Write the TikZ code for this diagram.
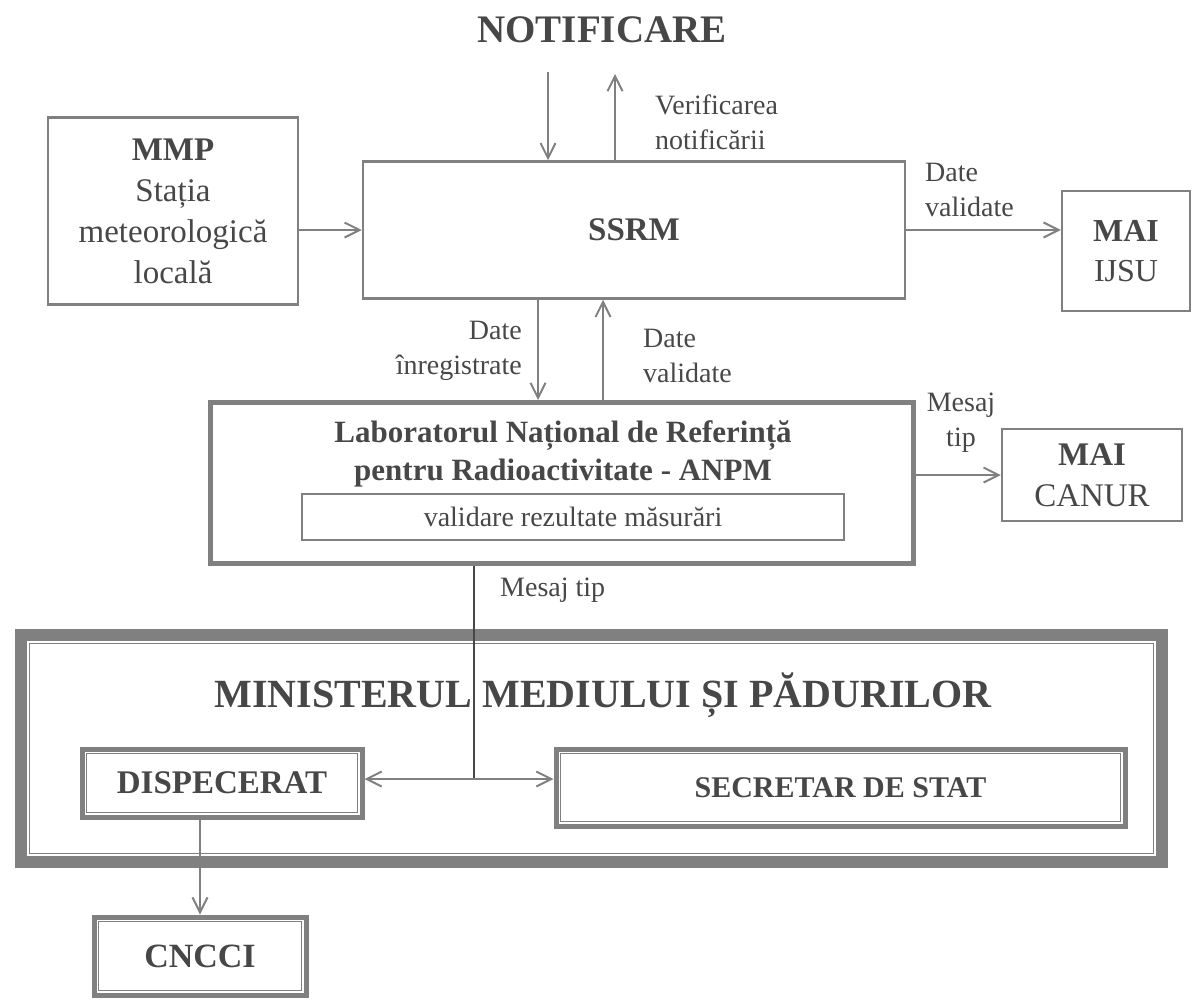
\documentclass[tikz,border=0pt]{standalone}
\usepackage{fontspec}
\setmainfont{Liberation Serif}
\usetikzlibrary{arrows.meta}
\definecolor{scanline}{gray}{0.5}
\definecolor{scantext}{gray}{0.28}
\begin{document}
\begin{tikzpicture}[x=1pt,y=-1pt,
	thinbox/.style={draw=scanline,line width=2.5pt,inner sep=0pt,align=center,text=scantext},
	heavybox/.style={draw=scanline,line width=5pt,inner sep=0pt,align=center,text=scantext},
	inner/.style={draw=scanline,line width=1.5pt},
	note/.style={text=scantext,inner sep=0pt,font=\fontsize{28}{35}\selectfont},
	arr/.style={draw=scanline,line width=2pt,-{Straight Barb[length=15pt,width=15pt]}}]
	\useasboundingbox (0,0) rectangle (1194,999);

	% NOTIFICARE
	\node[text=scantext,font=\bfseries\fontsize{39}{39}\selectfont] (notif) at (602,30) {NOTIFICARE};
	\coordinate (nin) at (548,72);
	\coordinate (nout) at (615,74);

	% SSRM and the boxes round it
	\node[thinbox,minimum width=250pt,minimum height=187pt,font=\fontsize{33}{41}\selectfont] (mmp) at (173,211) {\textbf{MMP}\\Stația\\meteorologică\\locală};
	\node[thinbox,minimum width=542pt,minimum height=137pt,font=\bfseries\fontsize{33}{33}\selectfont] (ssrm) at (634,230) {SSRM};
	\node[thinbox,minimum width=128pt,minimum height=120pt,font=\fontsize{32}{40}\selectfont] (ijsu) at (1126,251) {\textbf{MAI}\\IJSU};

	\draw[arr] (nin) -- (nin |- ssrm.north);
	\draw[arr] (ssrm.north -| nout) -- (nout);
	\node[note,anchor=west,align=left] (verif) at (655,122) {Verificarea\\notificării};
	\draw[arr] (mmp.east |- ssrm.west) -- (ssrm.west);
	\draw[arr] (ssrm.east) -- (ssrm.east -| ijsu.west);
	\node[note,anchor=west,align=left] (dvalsus) at (925,190) {Date\\validate};

	% Laboratorul
	\node[heavybox,minimum width=703pt,minimum height=161pt] (lab) at (562,483) {};
	\node[text=scantext,align=center,font=\bfseries\fontsize{31}{38}\selectfont] (labtitle) at (563,454) {Laboratorul Național de Referință\\pentru Radioactivitate - ANPM};
	\node[thinbox,minimum width=542pt,minimum height=46pt,font=\fontsize{28}{28}\selectfont] (labval) at (573,517) {validare rezultate măsurări};
	\node[thinbox,minimum width=180pt,minimum height=92pt,font=\fontsize{33}{41}\selectfont] (canur) at (1092,475) {\textbf{MAI}\\CANUR};

	\coordinate (din) at (538,0);
	\coordinate (dout) at (603,0);
	\draw[arr] (ssrm.south -| din) -- (lab.north -| din);
	\draw[arr] (lab.north -| dout) -- (ssrm.south -| dout);
	\node[note,anchor=east,align=right] (dinr) at (522,351) {Date\\înregistrate};
	\node[note,anchor=west,align=left] (dvaljos) at (643,356) {Date\\validate};
	\draw[arr] (lab.east |- canur.west) -- (canur.west);
	\node[note,align=center] (mtipdr) at (961,423) {Mesaj\\tip};

	% Ministerul
	\node[draw=scanline,line width=12pt,minimum width=1141pt,minimum height=227pt] (minist) at (591.5,748.5) {};
	\draw[inner] ([shift={(14.5pt,-14.5pt)}]minist.north west) rectangle ([shift={(-14.5pt,14.5pt)}]minist.south east);
	\node[text=scantext,font=\bfseries\fontsize{40}{40}\selectfont] (mintitle) at (603,695) {MINISTERUL MEDIULUI ȘI PĂDURILOR};

	\node[heavybox,minimum width=280pt,minimum height=68pt,font=\bfseries\fontsize{33}{33}\selectfont] (disp) at (222,783) {DISPECERAT};
	\draw[inner] ([shift={(7pt,-7pt)}]disp.north west) rectangle ([shift={(-7pt,7pt)}]disp.south east);
	\node[heavybox,minimum width=569pt,minimum height=77pt,font=\bfseries\fontsize{30}{30}\selectfont] (secr) at (840.5,787.5) {SECRETAR DE STAT};
	\draw[inner] ([shift={(7pt,-7pt)}]secr.north west) rectangle ([shift={(-7pt,7pt)}]secr.south east);
	\node[heavybox,minimum width=212pt,minimum height=78pt,font=\bfseries\fontsize{34}{34}\selectfont] (cncci) at (200,956) {CNCCI};
	\draw[inner] ([shift={(7pt,-7pt)}]cncci.north west) rectangle ([shift={(-7pt,7pt)}]cncci.south east);

	% Mesaj tip spre minister
	\coordinate (junc) at (474,779);
	\draw[scantext,line width=1.5pt] (lab.south -| junc) -- (junc);
	\node[note,anchor=west] (mtipjos) at (500,590) {Mesaj tip};
	\draw[arr] (junc) -- (junc -| disp.east);
	\draw[arr] (junc) -- (junc -| secr.west);
	\draw[arr] (cncci.north |- disp.south) -- (cncci.north);

\end{tikzpicture}
\end{document}
